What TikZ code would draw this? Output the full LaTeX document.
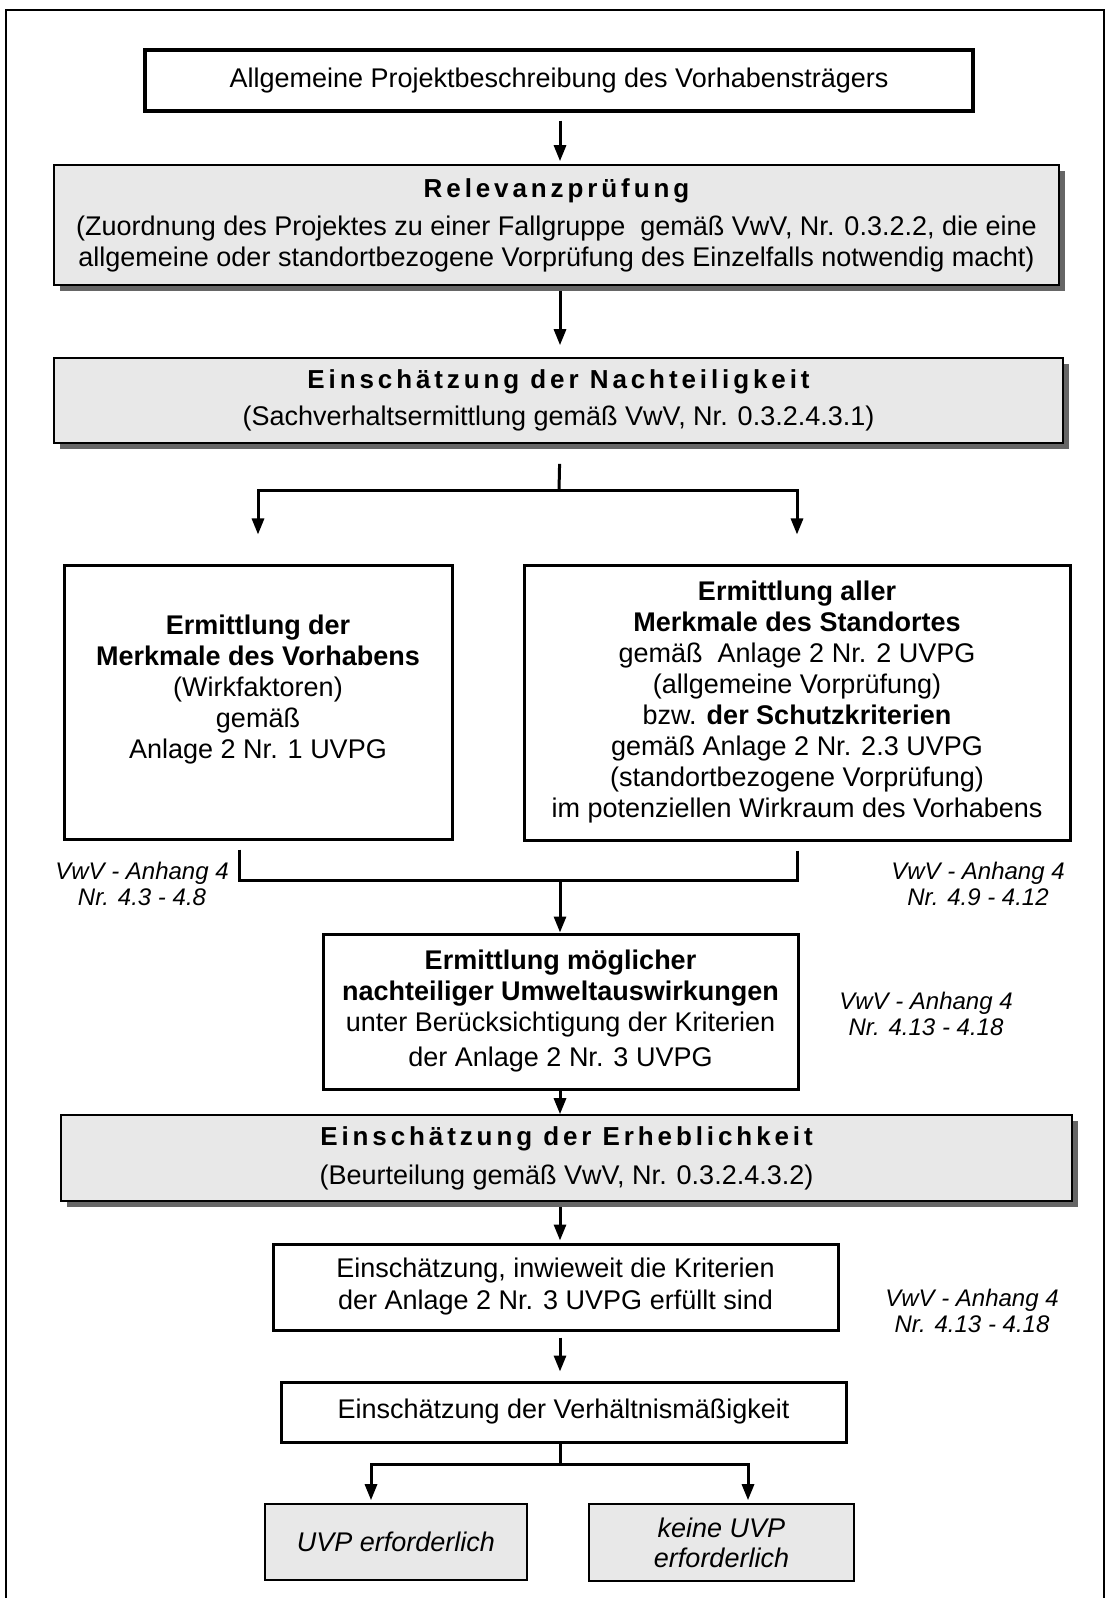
\documentclass[tikz,border=0pt]{standalone}
\usepackage{fontspec}
\setmainfont{Liberation Sans}
\newfontfamily\sperrschrift[LetterSpace=15.0]{Liberation Sans}
\usetikzlibrary{arrows.meta,shadows}
\definecolor{kastengrau}{gray}{0.91}
\definecolor{schatten}{gray}{0.4}
\newcommand{\kopf}[1]{{\sperrschrift\bfseries\fontsize{13}{15}\selectfont #1}}

\begin{document}
\begin{tikzpicture}[x=0.5pt, y=-0.5pt,
    every node/.style={inner sep=0pt, align=center, font=\fontsize{13.5}{15.5}\selectfont},
    kasten/.style={draw, line width=1.5pt, fill=white},
    grau/.style={draw, line width=0.8pt, fill=kastengrau,
      drop shadow={shadow xshift=3pt, shadow yshift=-3pt, fill=schatten, opacity=1}},
    ende/.style={draw, line width=0.8pt, fill=kastengrau, font=\itshape\fontsize{13.5}{15}\selectfont},
    verweis/.style={font=\itshape\fontsize{12}{13}\selectfont},
    linie/.style={line width=1.5pt},
    pfeil/.style={line width=1.5pt, -{Triangle[width=6pt,length=8pt]}}]
    \useasboundingbox (0,0) rectangle (1106,1598);
    % Rahmen
    \draw[line width=1pt] (6,1598) -- (6,10) -- (1104,10) -- (1104,1598);
    \coordinate (mitte) at (560,0);
    % Kaesten
    \node[kasten, line width=1.7pt, minimum width=414pt, minimum height=30.5pt]
    (projekt) at (559,80.5) {Allgemeine Projektbeschreibung des Vorhabensträgers};
    \node[grau, minimum width=502.5pt, minimum height=60pt] (relevanz) at (556.5,225)
    {\kopf{Relevanzprüfung}\\[3.5pt]
      (Zuordnung des Projektes zu einer Fallgruppe \ gemäß VwV, Nr. 0.3.2.2, die eine\\
      allgemeine oder standortbezogene Vorprüfung des Einzelfalls notwendig macht)};
    \node[grau, minimum width=504.5pt, minimum height=42.5pt] (nachteil) at (558.5,400.5)
    {\kopf{Einschätzung der Nachteiligkeit}\\[3pt]
      (Sachverhaltsermittlung gemäß VwV, Nr. 0.3.2.4.3.1)};
    \node[kasten, minimum width=194pt, minimum height=137pt] (vorhaben) at (258,702)
    {\textbf{Ermittlung der}\\ \textbf{Merkmale des Vorhabens}\\ (Wirkfaktoren)\\ gemäß\\
      Anlage 2 Nr. 1 UVPG\\ \mbox{}};
    \node[kasten, minimum width=273pt, minimum height=137.5pt] (standort) at (797,702.5)
    {\textbf{Ermittlung aller}\\ \textbf{Merkmale des Standortes}\\ gemäß \ Anlage 2 Nr. 2 UVPG\\
      (allgemeine Vorprüfung)\\ bzw. \textbf{der Schutzkriterien}\\ gemäß Anlage 2 Nr. 2.3 UVPG\\
      (standortbezogene Vorprüfung)\\ im potenziellen Wirkraum des Vorhabens};
    \node[kasten, minimum width=237.5pt, minimum height=77.5pt] (auswirk) at (560.5,1011.5)
    {\textbf{Ermittlung möglicher}\\ \textbf{nachteiliger Umweltauswirkungen}\\
      unter Berücksichtigung der Kriterien\\[2pt] der Anlage 2 Nr. 3 UVPG};
    \node[grau, minimum width=505.5pt, minimum height=43pt] (erheblich) at (566.5,1158)
    {\kopf{Einschätzung der Erheblichkeit}\\[4pt]
      (Beurteilung gemäß VwV, Nr. 0.3.2.4.3.2)};
    \node[kasten, minimum width=282.5pt, minimum height=43pt] (kriterien) at (555.5,1287)
    {Einschätzung, inwieweit die Kriterien\\[0.5pt] der Anlage 2 Nr. 3 UVPG erfüllt sind};
    \node[kasten, minimum width=282.5pt, minimum height=30pt] (verhaeltnis) at (563.5,1412)
    {Einschätzung der Verhältnismäßigkeit};
    \node[ende, minimum width=131pt, minimum height=38pt] (uvpja) at (396,1542)
    {UVP erforderlich};
    \node[ende, minimum width=132.5pt, minimum height=38.5pt] (uvpnein) at (721.5,1542.5)
    {keine UVP\\ erforderlich};
    % Verweise
    \node[verweis] (anh1) at (142,884) {VwV - Anhang 4\\ Nr. 4.3 - 4.8};
    \node[verweis] (anh2) at (978,884) {VwV - Anhang 4\\ Nr. 4.9 - 4.12};
    \node[verweis] (anh3) at (926,1014) {VwV - Anhang 4\\ Nr. 4.13 - 4.18};
    \node[verweis] (anh4) at (972,1311) {VwV - Anhang 4\\ Nr. 4.13 - 4.18};
    % Pfeile
    \draw[pfeil, shorten <=4pt, shorten >=1.5pt] (mitte |- projekt.south) -- (mitte |- relevanz.north);
    \draw[pfeil, shorten <=2.5pt, shorten >=6pt] (mitte |- relevanz.south) -- (mitte |- nachteil.north);
    \coordinate (teil) at (559,491);
    \draw[linie, shorten <=10pt] (mitte |- nachteil.south) -- (teil);
    \draw[pfeil, shorten >=14.5pt] (teil) -| (vorhaben.north);
    \draw[pfeil, shorten >=14.5pt] (teil) -| (standort.north);
    \coordinate (zusammen) at (560,880);
    \draw[linie, shorten <=4.5pt] ([xshift=-9.5pt]vorhaben.south) |- (zusammen);
    \draw[linie, shorten <=4.5pt] (standort.south) |- (zusammen);
    \draw[pfeil] (zusammen) -- (mitte |- auswirk.north);
    \draw[pfeil] (mitte |- auswirk.south) -- (mitte |- erheblich.north);
    \draw[pfeil, shorten <=2.5pt, shorten >=1pt] (mitte |- erheblich.south) -- (mitte |- kriterien.north);
    \draw[pfeil, shorten <=3pt, shorten >=4.5pt] (mitte |- kriterien.south) -- (mitte |- verhaeltnis.north);
    \coordinate (verzweig) at (560,1464);
    \draw[linie] (mitte |- verhaeltnis.south) -- (verzweig);
    \draw[pfeil, shorten >=1.5pt] (verzweig) -| ([xshift=-12.5pt]uvpja.north);
    \draw[pfeil, shorten >=1.5pt] (verzweig) -| ([xshift=13.25pt]uvpnein.north);
\end{tikzpicture}
\end{document}
